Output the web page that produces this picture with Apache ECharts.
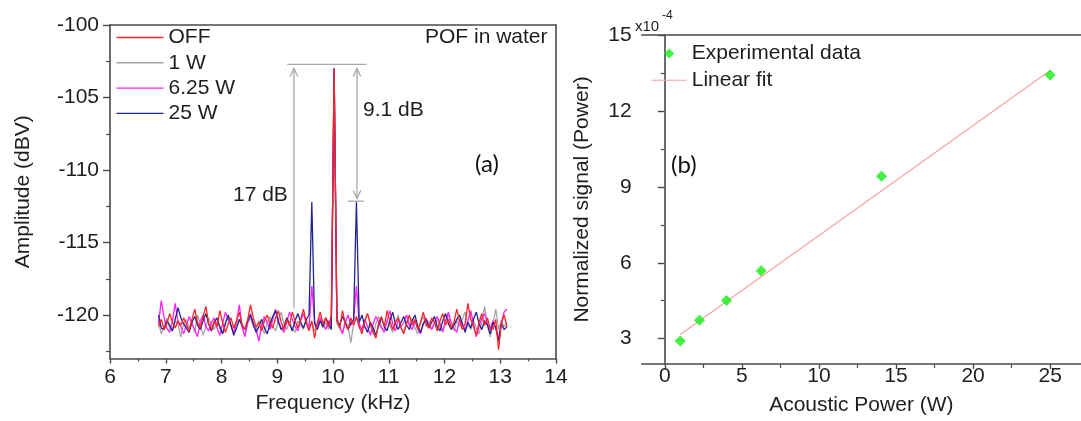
<!DOCTYPE html>
<html>
<head>
<meta charset="utf-8">
<script src="https://cdn.jsdelivr.net/npm/echarts@6/dist/echarts.min.js"></script>
<style>
html,body{margin:0;padding:0;background:#fff;}
#chart{width:1081px;height:421px;}
</style>
</head>
<body>
<div id="chart"></div>
<script>
// ---------- Panel (a): spectra ----------
const freqStart = 6.87;   // kHz, first sample
const freqStep = 0.05;    // kHz, sample spacing
const seriesNames = ['OFF', '1 W', '6.25 W', '25 W'];
const seriesColors = ['#ff2424', '#a6a6a6', '#ff1fff', '#23238e'];

const ampOFF = [
 -120.8,-120.3,-121.0,-120.6,-119.9,-120.5,-120.9,-120.4,-120.7,-120.2,
 -120.6,-121.1,-120.3,-119.6,-120.5,-120.9,-120.1,-119.4,-120.6,-121.0,
 -120.4,-120.8,-119.7,-120.5,-121.2,-120.6,-120.2,-120.9,-120.4,-119.8,
 -120.7,-121.0,-120.3,-119.3,-120.2,-120.8,-120.5,-121.1,-120.4,-120.0,
 -120.6,-120.9,-120.2,-119.7,-120.5,-121.0,-120.3,-120.7,-119.8,-120.4,
 -120.9,-120.3,-119.6,-120.5,-121.1,-120.4,-121.6,-120.5,-119.8,-120.6,
 -120.2,-120.8,-120.0,-103.0,-120.3,-120.9,-119.7,-120.6,-121.0,-120.2,
 -120.7,-120.1,-120.8,-121.3,-120.4,-119.9,-120.6,-121.2,-121.6,-120.5,
 -120.1,-120.8,-119.7,-120.4,-121.0,-120.5,-120.2,-120.9,-121.3,-120.6,
 -120.0,-120.7,-120.3,-121.0,-120.5,-119.8,-120.6,-120.9,-120.2,-120.5,
 -121.1,-120.4,-119.9,-120.7,-120.3,-120.9,-120.5,-119.6,-120.4,-121.0,
 -120.6,-119.2,-120.3,-120.8,-121.4,-120.5,-119.9,-120.7,-120.2,-120.9,
 -121.0,-120.3,-122.4,-120.6,-120.0,-120.8
];
const amp1W = [
 -120.5,-121.3,-120.8,-120.2,-120.9,-121.1,-120.4,-120.7,-121.5,-120.6,
 -120.3,-120.9,-120.5,-121.2,-120.0,-120.6,-121.4,-120.8,-120.2,-120.7,
 -121.0,-120.4,-120.9,-121.3,-120.5,-120.1,-120.8,-121.2,-120.6,-120.3,
 -120.9,-121.4,-120.6,-120.2,-120.8,-121.0,-120.4,-120.7,-121.3,-120.5,
 -120.1,-120.8,-121.1,-120.4,-119.8,-120.6,-121.0,-120.5,-120.9,-121.2,
 -120.4,-120.7,-121.0,-120.3,-120.8,-120.5,-121.1,-120.6,-120.2,-120.9,
 -120.5,-121.0,-120.3,-103.0,-120.6,-120.9,-121.2,-120.4,-120.8,-121.9,
 -120.6,-120.2,-120.9,-121.1,-120.5,-119.9,-120.7,-121.3,-120.6,-120.1,
 -120.8,-121.0,-120.4,-120.7,-121.2,-120.5,-120.0,-120.9,-121.1,-120.4,
 -120.7,-120.2,-120.9,-121.3,-120.6,-120.1,-120.8,-120.4,-121.0,-120.6,
 -120.3,-120.9,-121.2,-120.5,-120.0,-120.7,-121.1,-120.4,-120.8,-120.3,
 -119.8,-120.6,-121.0,-120.4,-120.9,-121.3,-120.5,-119.4,-120.7,-121.5,
 -120.6,-119.6,-121.0,-120.4,-120.8,-120.5
];
const amp625W = [
 -120.6,-119.0,-120.2,-120.9,-121.2,-120.4,-119.2,-120.5,-120.8,-121.3,
 -120.7,-120.1,-120.6,-121.0,-121.5,-120.4,-120.0,-120.8,-121.1,-120.5,
 -120.2,-120.9,-121.4,-120.6,-119.8,-120.3,-120.7,-121.2,-120.4,-119.3,
 -120.8,-121.5,-120.5,-119.9,-120.6,-121.0,-121.8,-120.7,-120.1,-120.5,
 -121.0,-120.3,-119.6,-120.4,-120.9,-121.2,-120.5,-119.8,-120.3,-120.8,
 -121.1,-120.4,-119.9,-120.6,-121.0,-118.0,-120.5,-120.8,-120.2,-120.6,
 -121.0,-120.4,-120.7,-103.0,-120.2,-120.8,-121.3,-120.5,-120.0,-120.7,
 -120.4,-118.0,-120.6,-121.0,-120.3,-120.8,-121.4,-120.6,-120.1,-120.5,
 -120.9,-121.2,-120.4,-119.7,-120.6,-121.1,-120.3,-120.8,-120.5,-120.0,
 -120.7,-121.0,-120.4,-120.9,-121.3,-120.6,-120.2,-120.7,-121.0,-120.5,
 -120.1,-120.6,-121.1,-120.4,-119.8,-120.5,-120.9,-121.2,-120.3,-120.7,
 -121.0,-120.4,-119.7,-120.6,-121.5,-120.8,-120.2,-119.9,-120.6,-121.0,
 -120.4,-120.9,-121.6,-120.5,-119.8,-119.6
];
const amp25W = [
 -120.0,-120.9,-121.0,-120.4,-120.7,-121.1,-120.3,-119.5,-120.2,-120.6,
 -120.9,-121.2,-120.5,-120.1,-120.7,-121.0,-120.4,-119.9,-120.6,-121.1,
 -120.5,-120.2,-120.8,-121.3,-120.6,-120.0,-120.7,-121.4,-120.9,-120.3,
 -120.7,-121.0,-120.4,-120.0,-120.6,-121.2,-120.8,-120.3,-120.9,-121.3,
 -120.6,-120.1,-119.7,-120.5,-121.0,-120.8,-120.2,-120.6,-121.1,-120.4,
 -119.9,-120.5,-120.9,-120.3,-120.0,-112.2,-120.6,-121.0,-120.4,-120.8,
 -120.2,-120.6,-121.0,-103.0,-120.4,-120.7,-120.1,-120.5,-121.0,-120.6,
 -120.3,-112.2,-120.5,-120.0,-120.8,-121.2,-120.5,-120.9,-121.4,-120.7,
 -120.2,-120.8,-121.1,-120.4,-119.8,-120.6,-121.0,-120.5,-120.1,-120.7,
 -121.0,-120.4,-120.0,-120.8,-121.2,-120.6,-120.3,-120.9,-120.5,-120.1,
 -120.8,-121.1,-120.4,-119.9,-120.6,-121.0,-120.7,-120.3,-120.0,-120.6,
 -121.2,-120.5,-120.9,-120.3,-119.8,-120.6,-121.0,-120.4,-120.7,-121.3,
 -120.5,-120.9,-121.8,-120.6,-121.0,-120.8
];
const ampTicksA = [-120, -115, -110, -105, -100];
const ampMinorA = [-122.5, -117.5, -112.5, -107.5, -102.5];

// annotation segments: [x1, y1, x2, y2, headAtStart, headAtEnd]
const annotA = [
  [9.18, -102.72, 10.60, -102.72, 0, 0],
  [9.30, -119.56, 9.30, -103.0, 0, 1],
  [10.43, -103.0, 10.43, -111.97, 1, 1],
  [10.27, -112.15, 10.55, -112.15, 0, 0]
];

// ---------- Panel (b): normalized signal ----------
const acousticPower = [1, 2.25, 4, 6.25, 14.06, 25];
const normSignal = [2.91, 3.73, 4.51, 5.68, 9.42, 13.42]; // x1e-4
const fitX = [1, 25];
const fitY = [3.17, 13.6];
const powerTicks = [0, 5, 10, 15, 20, 25];
const powerMinor = [2.5, 7.5, 12.5, 17.5, 22.5];
const signalTicks = [3, 6, 9, 12, 15];
const signalMinor = [4.5, 7.5, 10.5, 13.5];

// ---------- build ----------
const FONT = '"Liberation Sans", Arial, sans-serif';
const AXC = '#4a4a4a';
const TXC = '#1e1e1e';
const specData = [ampOFF, amp1W, amp625W, amp25W];
function toPairs(arr) {
  return arr.map((v, i) => [+(freqStart + freqStep * i).toFixed(2), v]);
}

const chart = echarts.init(document.getElementById('chart'), null, {renderer: 'canvas'});

const axisLineStyle = {show: true, lineStyle: {color: AXC, width: 1.6}};
const labelStyle = {fontFamily: FONT, fontSize: 21, color: TXC};

const ICON_LINE_A = 'path://M0,0L47,0L47,1.4L0,1.4Z';
const ICON_LINE_B = 'path://M0,0L35,0L35,1.1L0,1.1Z';
const ICON_DIAMOND = 'path://M5,0L10,5L5,10L0,5Z';

const option = {
  animation: false,
  backgroundColor: '#fff',
  grid: [
    {left: 110, top: 25, width: 446, height: 333.5},
    {left: 641.7, top: 35, width: 456, height: 333.3}
  ],
  xAxis: [
    { // 0: panel a bottom
      gridIndex: 0, type: 'value', min: 6, max: 14, interval: 1, position: 'bottom',
      axisLine: axisLineStyle,
      axisTick: {show: true, inside: false, length: 5, lineStyle: {color: AXC, width: 1.4}},
      minorTick: {show: true, splitNumber: 2, length: 3, lineStyle: {color: AXC, width: 1.2}},
      axisLabel: Object.assign({margin: 8}, labelStyle),
      splitLine: {show: false}, minorSplitLine: {show: false},
      name: 'Frequency (kHz)', nameLocation: 'middle', nameGap: 32,
      nameTextStyle: {fontFamily: FONT, fontSize: 21, color: TXC}
    },
    { // 1: panel a top border
      gridIndex: 0, type: 'value', min: 6, max: 14, position: 'top',
      axisLine: axisLineStyle, axisTick: {show: false}, axisLabel: {show: false}, splitLine: {show: false}
    },
    { // 2: panel b bottom
      gridIndex: 1, type: 'value', min: -1.5, max: 27, position: 'bottom',
      axisLine: axisLineStyle,
      axisTick: {show: true, inside: false, length: 5, customValues: powerTicks, lineStyle: {color: AXC, width: 1.4}},
      axisLabel: Object.assign({margin: 2, customValues: powerTicks}, labelStyle),
      splitLine: {show: false},
      name: 'Acoustic Power (W)', nameLocation: 'middle', nameGap: 31,
      nameTextStyle: {fontFamily: FONT, fontSize: 21, color: TXC}
    },
    { // 3: panel b minor ticks
      gridIndex: 1, type: 'value', min: -1.5, max: 27, position: 'bottom',
      axisLine: {show: false},
      axisTick: {show: true, inside: false, length: 4, customValues: powerMinor, lineStyle: {color: AXC, width: 1.2}},
      axisLabel: {show: false}, splitLine: {show: false}
    },
    { // 4: panel b top border
      gridIndex: 1, type: 'value', min: -1.5, max: 27, position: 'top',
      axisLine: axisLineStyle, axisTick: {show: false}, axisLabel: {show: false}, splitLine: {show: false}
    }
  ],
  yAxis: [
    { // 0: panel a left
      gridIndex: 0, type: 'value', min: -123, max: -100, position: 'left',
      axisLine: axisLineStyle,
      axisTick: {show: true, inside: false, length: 7, customValues: ampTicksA, lineStyle: {color: AXC, width: 1.4}},
      axisLabel: Object.assign({margin: 11, customValues: ampTicksA}, labelStyle),
      splitLine: {show: false},
      name: 'Amplitude (dBV)', nameLocation: 'middle', nameGap: 76,
      nameTextStyle: {fontFamily: FONT, fontSize: 21, color: TXC}
    },
    { // 1: panel a minor ticks
      gridIndex: 0, type: 'value', min: -123, max: -100, position: 'left',
      axisLine: {show: false},
      axisTick: {show: true, inside: false, length: 4, customValues: ampMinorA, lineStyle: {color: AXC, width: 1.2}},
      axisLabel: {show: false}, splitLine: {show: false}
    },
    { // 2: panel a right border
      gridIndex: 0, type: 'value', min: -123, max: -100, position: 'right',
      axisLine: axisLineStyle, axisTick: {show: false}, axisLabel: {show: false}, splitLine: {show: false}
    },
    { // 3: panel b left
      gridIndex: 1, type: 'value', min: 2, max: 15, position: 'left',
      axisLine: axisLineStyle,
      axisTick: {show: true, inside: false, length: 7, customValues: signalTicks, lineStyle: {color: AXC, width: 1.4}},
      axisLabel: Object.assign({margin: 10, customValues: signalTicks}, labelStyle),
      splitLine: {show: false},
      name: 'Normalized signal (Power)', nameLocation: 'middle', nameGap: 49,
      nameTextStyle: {fontFamily: FONT, fontSize: 21, color: TXC}
    },
    { // 4: panel b minor ticks
      gridIndex: 1, type: 'value', min: 2, max: 15, position: 'left',
      axisLine: {show: false},
      axisTick: {show: true, inside: false, length: 4, customValues: signalMinor, lineStyle: {color: AXC, width: 1.2}},
      axisLabel: {show: false}, splitLine: {show: false}
    }
  ],
  legend: [
    {
      data: seriesNames.map(n => ({name: n, icon: ICON_LINE_A})),
      orient: 'vertical', left: 111.5, top: 21.5,
      itemWidth: 47, itemHeight: 14, itemGap: 3.3, symbolKeepAspect: true,
      textStyle: {fontFamily: FONT, fontSize: 21, color: TXC, lineHeight: 22},
      selectedMode: false
    },
    {
      data: [{name: 'Experimental data', icon: ICON_DIAMOND}, {name: 'Linear fit', icon: ICON_LINE_B}],
      orient: 'vertical', left: 646.7, top: 37.5,
      itemWidth: 35, itemHeight: 10, itemGap: 4.7, symbolKeepAspect: true,
      textStyle: {fontFamily: FONT, fontSize: 21, color: TXC, lineHeight: 22},
      selectedMode: false
    }
  ],
  series: [],
  graphic: [
    {type: 'text', left: 425, top: 27, style: {text: 'POF in water', font: '21px ' + FONT, fill: TXC}},
    {type: 'text', left: 363, top: 100, style: {text: '9.1 dB', font: '21px ' + FONT, fill: TXC}},
    {type: 'text', left: 233, top: 185, style: {text: '17 dB', font: '21px ' + FONT, fill: TXC}},
    {type: 'text', left: 475, top: 152, style: {text: '(a)', font: '24px Lato, "Open Sans", sans-serif', fill: '#111'}},
    {type: 'text', left: 671, top: 153, style: {text: '(b)', font: '24px Lato, "Open Sans", sans-serif', fill: '#111'}},
    {type: 'text', left: 635, top: 19, style: {text: 'x10', font: '15px ' + FONT, fill: TXC}},
    {type: 'text', left: 662, top: 10, style: {text: '-4', font: '12px ' + FONT, fill: TXC}}
  ]
};

// draw order: gray, magenta, blue, red on top
const drawOrder = [1, 2, 3, 0];
drawOrder.forEach(k => {
  option.series.push({
    name: seriesNames[k], type: 'line', xAxisIndex: 0, yAxisIndex: 0,
    data: toPairs(specData[k]), symbol: 'none', smooth: false,
    lineStyle: {color: seriesColors[k], width: 1.3}, itemStyle: {color: seriesColors[k]},
    z: 2 + drawOrder.indexOf(k)
  });
});

option.series.push({
  type: 'custom', xAxisIndex: 0, yAxisIndex: 0, data: annotA, clip: false,
  encode: {x: [0, 2], y: [1, 3]}, z: 10,
  renderItem: function (params, api) {
    const p1 = api.coord([api.value(0), api.value(1)]);
    const p2 = api.coord([api.value(2), api.value(3)]);
    const st = {stroke: '#a8a8a8', lineWidth: 1.3, fill: null};
    const children = [{type: 'line', shape: {x1: p1[0], y1: p1[1], x2: p2[0], y2: p2[1]}, style: st}];
    function head(tip, from) {
      const dx = tip[0] - from[0], dy = tip[1] - from[1];
      const len = Math.sqrt(dx * dx + dy * dy) || 1;
      const ux = dx / len, uy = dy / len, L = 8, W = 3.8;
      children.push({type: 'polyline', shape: {points: [
        [tip[0] - ux * L - uy * W, tip[1] - uy * L + ux * W],
        tip,
        [tip[0] - ux * L + uy * W, tip[1] - uy * L - ux * W]
      ]}, style: st});
    }
    if (api.value(4)) head(p1, p2);
    if (api.value(5)) head(p2, p1);
    return {type: 'group', children: children};
  }
});

option.series.push({
  name: 'Experimental data', type: 'scatter', xAxisIndex: 2, yAxisIndex: 3,
  data: acousticPower.map((x, i) => [x, normSignal[i]]),
  symbol: 'diamond', symbolSize: 11, itemStyle: {color: '#14ee14'}, z: 5
});
option.series.push({
  name: 'Linear fit', type: 'line', xAxisIndex: 2, yAxisIndex: 3,
  data: fitX.map((x, i) => [x, fitY[i]]), symbol: 'none',
  lineStyle: {color: '#f2a3a3', width: 1.2}, itemStyle: {color: '#f2a3a3'}, z: 4
});

chart.setOption(option);
</script>
</body>
</html>
